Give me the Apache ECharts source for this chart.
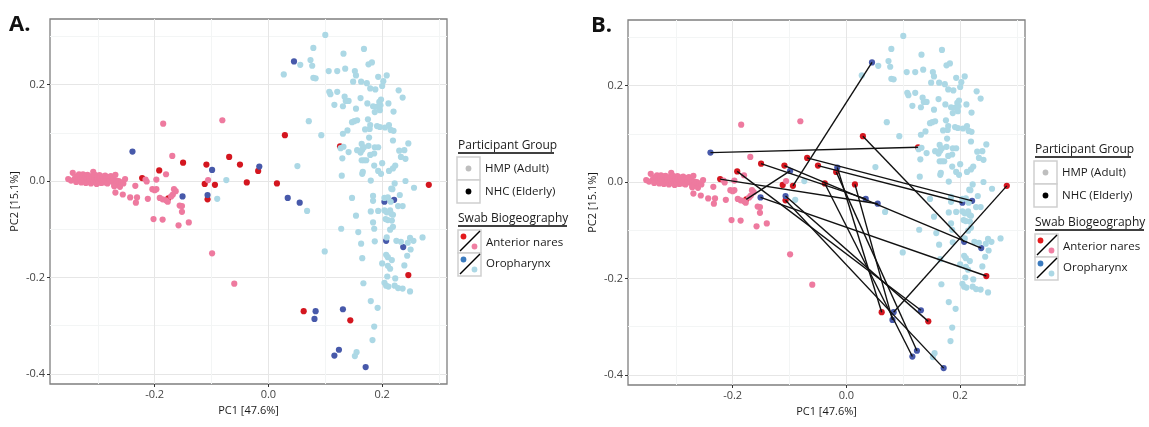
<!DOCTYPE html>
<html>
<head>
<meta charset="utf-8">
<script src="https://cdn.jsdelivr.net/npm/echarts@6.0.0/dist/echarts.min.js"></script>
<style>
html,body{margin:0;padding:0;background:#fff}
#chart{width:1149px;height:427px}
</style>
</head>
<body>
<div id="chart"></div>
<script>
// PCA coordinates [PC1, PC2]
// NHC (Elderly): nares[i] is paired with oro[i]; the last nares point has no partner
const nhcNares = [
	[0.126,0.072],[-0.094,-0.008],[0.029,0.095],[0.282,-0.008],[-0.069,0.050],[-0.050,0.034],
	[-0.192,0.022],[0.144,-0.289],[0.246,-0.195],[-0.222,0.006],[-0.150,0.038],[-0.176,-0.036],
	[0.062,-0.270],[-0.109,0.034],[-0.107,-0.038],[0.015,-0.005],[-0.018,0.021],[-0.038,-0.003],
	[-0.112,-0.006]
]
const nhcOro = [
	[-0.239,0.061],[0.045,0.248],[0.207,-0.124],[0.083,-0.270],[0.221,-0.039],[0.204,-0.043],
	[0.131,-0.266],[-0.107,-0.029],[-0.151,-0.032],[0.055,-0.045],[0.034,-0.035],[-0.099,0.023],
	[-0.016,0.030],[0.237,-0.137],[0.171,-0.386],[0.081,-0.286],[0.124,-0.350],[0.116,-0.362]
]
// HMP (Adult)
const hmpNares = [
	[-0.352,0.004],[-0.347,0.001],[-0.344,0.017],[-0.340,0.006],[-0.338,-0.002],[-0.336,0.010],
	[-0.333,0.014],[-0.331,0.003],[-0.329,-0.003],[-0.327,0.008],[-0.326,0.014],[-0.324,0.001],
	[-0.322,0.011],[-0.321,-0.004],[-0.319,0.005],[-0.318,0.013],[-0.316,-0.001],[-0.315,0.008],
	[-0.314,0.002],[-0.312,-0.005],[-0.311,0.010],[-0.310,0.004],[-0.308,0.019],[-0.307,-0.002],
	[-0.306,0.007],[-0.305,0.013],[-0.303,0.001],[-0.302,-0.006],[-0.301,0.009],[-0.300,0.004],
	[-0.298,-0.002],[-0.297,0.012],[-0.296,0.006],[-0.294,-0.004],[-0.293,0.002],[-0.292,0.009],
	[-0.290,0.005],[-0.289,-0.003],[-0.287,0.011],[-0.286,0.001],[-0.284,0.007],[-0.283,-0.005],
	[-0.281,0.008],[-0.279,0.002],[-0.277,0.010],[-0.275,-0.001],[-0.273,0.005],[-0.271,-0.008],
	[-0.269,0.013],[-0.267,0.001],[-0.265,-0.004],[-0.263,0.000],[-0.261,-0.012],[-0.258,-0.003],
	[-0.255,-0.005],[-0.252,0.004],
	[-0.271,-0.011],[-0.269,-0.024],[-0.256,-0.028],[-0.243,-0.034],[-0.234,-0.010],[-0.231,-0.034],
	[-0.233,-0.045],[-0.216,0.003],[-0.214,-0.001],[-0.212,-0.037],[-0.197,0.003],[-0.204,-0.017],
	[-0.200,-0.019],[-0.197,-0.017],[-0.191,-0.035],[-0.186,-0.038],[-0.180,-0.040],[-0.177,-0.043],
	[-0.180,0.014],[-0.169,0.052],[-0.185,0.119],[-0.081,0.126],[-0.106,0.002],[-0.166,-0.017],
	[-0.163,-0.021],[-0.168,-0.028],[-0.171,-0.032],[-0.156,-0.051],[-0.152,-0.052],[-0.152,-0.064],
	[-0.158,-0.092],[-0.140,-0.086],[-0.202,-0.079],[-0.186,-0.080],[-0.099,-0.150],[-0.060,-0.213]
]
const hmpOro = [
	[0.100,0.303],[0.079,0.276],[0.132,0.264],[0.168,0.274],[0.074,0.251],[0.056,0.241],
	[0.077,0.239],[0.176,0.242],[0.182,0.246],[0.027,0.221],[0.079,0.214],[0.083,0.213],
	[0.106,0.228],[0.121,0.228],[0.135,0.233],[0.152,0.228],[0.154,0.219],[0.193,0.216],
	[0.208,0.219],[0.149,0.206],[0.163,0.206],[0.173,0.203],[0.202,0.207],[0.179,0.192],
	[0.188,0.190],[0.200,0.197],[0.107,0.185],[0.109,0.180],[0.121,0.185],[0.229,0.188],
	[0.236,0.173],[0.134,0.175],[0.141,0.166],[0.136,0.166],[0.162,0.172],[0.154,0.150],
	[0.116,0.158],[0.131,0.155],[0.174,0.161],[0.184,0.155],[0.190,0.154],[0.197,0.157],
	[0.198,0.169],[0.195,0.164],[0.211,0.161],[0.187,0.143],[0.196,0.147],[0.220,0.144],
	[0.071,0.124],[0.147,0.122],[0.151,0.124],[0.156,0.126],[0.175,0.128],[0.179,0.116],
	[0.170,0.107],[0.178,0.108],[0.093,0.095],[0.131,0.098],[0.139,0.105],[0.191,0.114],
	[0.196,0.112],[0.205,0.111],[0.212,0.116],[0.215,0.106],[0.220,0.104],[0.177,0.090],
	[0.219,0.084],[0.246,0.078],[0.132,0.071],[0.164,0.077],[0.127,0.068],[0.141,0.060],
	[0.156,0.064],[0.165,0.065],[0.168,0.070],[0.176,0.073],[0.162,0.059],[0.179,0.054],
	[0.186,0.057],[0.187,0.070],[0.193,0.070],[0.230,0.063],[0.239,0.064],[0.130,0.047],
	[0.164,0.043],[0.168,0.043],[0.172,0.043],[0.186,0.032],[0.200,0.037],[0.233,0.050],
	[0.241,0.046],[0.051,0.031],[0.193,0.021],[0.198,0.015],[0.212,0.021],[0.219,0.026],
	[0.223,0.032],[0.129,0.011],[0.165,0.015],[0.166,0.019],[0.180,0.001],[0.222,-0.005],
	[0.241,0.000],[0.256,-0.014],[-0.074,0.002],[0.216,-0.016],[0.218,-0.017],[-0.090,-0.037],
	[0.147,-0.035],[0.184,-0.031],[0.204,-0.035],[0.210,-0.034],[0.231,-0.029],[0.184,-0.041],
	[0.215,-0.043],[0.228,-0.052],[0.236,-0.052],[0.068,-0.062],[0.154,-0.072],[0.180,-0.063],
	[0.193,-0.062],[0.204,-0.061],[0.208,-0.065],[0.214,-0.061],[0.216,-0.068],[0.219,-0.070],
	[0.206,-0.079],[0.210,-0.081],[0.217,-0.082],[0.184,-0.086],[0.186,-0.099],[0.219,-0.095],
	[0.214,-0.101],[0.128,-0.099],[0.158,-0.106],[0.163,-0.130],[0.187,-0.125],[0.208,-0.117],
	[0.225,-0.124],[0.233,-0.126],[0.249,-0.118],[0.255,-0.124],[0.245,-0.128],[0.271,-0.117],
	[0.250,-0.142],[0.099,-0.146],[0.165,-0.160],[0.207,-0.153],[0.210,-0.158],[0.217,-0.164],
	[0.244,-0.155],[0.239,-0.175],[0.200,-0.171],[0.210,-0.176],[0.214,-0.182],[0.209,-0.198],
	[0.223,-0.202],[0.167,-0.212],[0.204,-0.211],[0.207,-0.217],[0.211,-0.219],[0.222,-0.217],
	[0.228,-0.222],[0.236,-0.223],[0.249,-0.229],[0.180,-0.249],[0.192,-0.263],[0.186,-0.302],
	[0.183,-0.330],[0.155,-0.355],[0.152,-0.363]
]
const xMajor = [-0.2,0,0.2]
const xMinor = [-0.3,-0.1,0.1,0.3]
const yMajor = [-0.4,-0.2,0,0.2]
const yMinor = [-0.3,-0.1,0.1,0.3]
const xTitle = 'PC1 [47.6%]'
const yTitle = 'PC2 [15.1%]'

const XMIN = -0.384, XMAX = 0.314, YMIN = -0.421, YMAX = 0.336
const FONT = '"Open Sans", "DejaVu Sans", sans-serif'
const COL = {
	hmpNares:'#ee7a9f',
	hmpOro:'#acd8e5',
	nhcNares:'#d4161f',
	nhcOro:'#4759aa'
}

const grids = [
	{left:50, top:19, width:397, height:365, show:true, borderColor:'#7f7f7f', borderWidth:1.3},
	{left:628, top:20, width:397, height:365, show:true, borderColor:'#7f7f7f', borderWidth:1.3}
]

function majorX(g){
	return {
		type:'value', gridIndex:g, min:XMIN, max:XMAX, position:'bottom',
		name:xTitle, nameLocation:'middle', nameGap:21,
		nameTextStyle:{fontFamily:FONT, fontSize:11, color:'#1a1a1a'},
		axisLine:{show:false, onZero:false},
		axisTick:{show:true, customValues:xMajor, length:3, lineStyle:{color:'#333', width:1}},
		axisLabel:{customValues:xMajor, formatter:v => v.toFixed(1), fontFamily:FONT, fontSize:11, color:'#444', margin:5},
		splitLine:{show:true, lineStyle:{color:'#e6e6e6', width:1}}
	}
}
function minorX(g){
	return {
		type:'value', gridIndex:g, min:XMIN, max:XMAX, position:'bottom',
		axisLine:{show:false, onZero:false},
		axisTick:{show:false, customValues:xMinor},
		axisLabel:{show:false, customValues:xMinor},
		splitLine:{show:true, lineStyle:{color:'#f3f5f5', width:1}}
	}
}
function majorY(g){
	return {
		type:'value', gridIndex:g, min:YMIN, max:YMAX, position:'left',
		name:yTitle, nameLocation:'middle', nameGap:30, nameRotate:90,
		nameTextStyle:{fontFamily:FONT, fontSize:11, color:'#1a1a1a'},
		axisLine:{show:false, onZero:false},
		axisTick:{show:true, customValues:yMajor, length:3, lineStyle:{color:'#333', width:1}},
		axisLabel:{customValues:yMajor, formatter:v => v.toFixed(1), fontFamily:FONT, fontSize:11, color:'#444', margin:5},
		splitLine:{show:true, lineStyle:{color:'#e6e6e6', width:1}}
	}
}
function minorY(g){
	return {
		type:'value', gridIndex:g, min:YMIN, max:YMAX, position:'left',
		axisLine:{show:false, onZero:false},
		axisTick:{show:false, customValues:yMinor},
		axisLabel:{show:false, customValues:yMinor},
		splitLine:{show:true, lineStyle:{color:'#f3f5f5', width:1}}
	}
}

function points(name, data, color, axis){
	return {
		type:'scatter', name:name, data:data, xAxisIndex:axis, yAxisIndex:axis,
		symbolSize:6.2, itemStyle:{color:color, opacity:1}, silent:true
	}
}

// one panel = NHC points below, HMP points above
function panelSeries(axis){
	return [
		points('NHC nares', nhcNares, COL.nhcNares, axis),
		points('NHC oro', nhcOro, COL.nhcOro, axis),
		points('HMP nares', hmpNares, COL.hmpNares, axis),
		points('HMP oro', hmpOro, COL.hmpOro, axis)
	]
}

const pairLines = []
for(let i = 0 ; i < nhcOro.length ; i ++){
	pairLines.push({coords:[nhcNares[i], nhcOro[i]]})
}

function legendAt(x, y){
	const els = []
	const t = (s, tx, ty, size, color) => ({
		type:'text', x:tx, y:ty, silent:true,
		style:{text:s, fontFamily:FONT, fontSize:size, fill:color || '#1a1a1a', verticalAlign:'middle'}
	})
	const box = (bx, by) => ({
		type:'rect', silent:true, shape:{x:bx, y:by, width:23, height:23},
		style:{fill:'#fff', stroke:'#cfcfcf', lineWidth:1.5}
	})
	const dot = (cx, cy, c) => ({type:'circle', silent:true, shape:{cx:cx, cy:cy, r:2.9}, style:{fill:c}})
	const seg = (x1, y1, x2, y2) => ({
		type:'line', silent:true, shape:{x1:x1, y1:y1, x2:x2, y2:y2},
		style:{stroke:'#000', lineWidth:1.4}
	})
	els.push(t('Participant Group', x + 1, y + 146, 12))
	els.push(seg(x + 1, y + 153, x + 97, y + 153))
	els.push(box(x, y + 157), box(x, y + 180))
	els.push(dot(x + 11.5, y + 168.5, '#bebebe'), dot(x + 11.5, y + 191.5, '#000'))
	els.push(t('HMP (Adult)', x + 28, y + 169, 11.5), t('NHC (Elderly)', x + 28, y + 192, 11.5))
	els.push(t('Swab Biogeography', x + 1, y + 219, 12))
	els.push(seg(x + 1, y + 226, x + 110, y + 226))
	els.push(box(x + 1, y + 230), box(x + 1, y + 253))
	els.push(dot(x + 6.5, y + 236.5, '#e31a1c'), dot(x + 17.5, y + 246.5, '#f07fa3'), seg(x + 3, y + 251, x + 23, y + 231))
	els.push(dot(x + 6.5, y + 259.5, '#3b7bbf'), dot(x + 17.5, y + 269.5, '#acd8e5'), seg(x + 3, y + 274, x + 23, y + 254))
	els.push(t('Anterior nares', x + 29, y + 243, 11.5), t('Oropharynx', x + 29, y + 264, 11.5))
	return els
}

const chart = echarts.init(document.getElementById('chart'), null, {renderer:'canvas'})
chart.setOption({
	animation:false,
	backgroundColor:'#fff',
	grid:grids,
	xAxis:[majorX(0), minorX(0), majorX(1), minorX(1)],
	yAxis:[majorY(0), minorY(0), majorY(1), minorY(1)],
	series:[
		...panelSeries(0),
		...panelSeries(2),
		{
			type:'lines', coordinateSystem:'cartesian2d', xAxisIndex:2, yAxisIndex:2,
			data:pairLines, silent:true, z:3,
			lineStyle:{color:'#111', width:1.4, opacity:1}
		}
	],
	graphic:[
		{type:'text', x:9, y:14, silent:true, style:{text:'A.', fontFamily:FONT, fontSize:22, fontWeight:'bold', fill:'#111'}},
		{type:'text', x:591, y:15, silent:true, style:{text:'B.', fontFamily:FONT, fontSize:22, fontWeight:'bold', fill:'#111'}},
		...legendAt(457, 0),
		...legendAt(1034, 4)
	]
})
</script>
</body>
</html>
